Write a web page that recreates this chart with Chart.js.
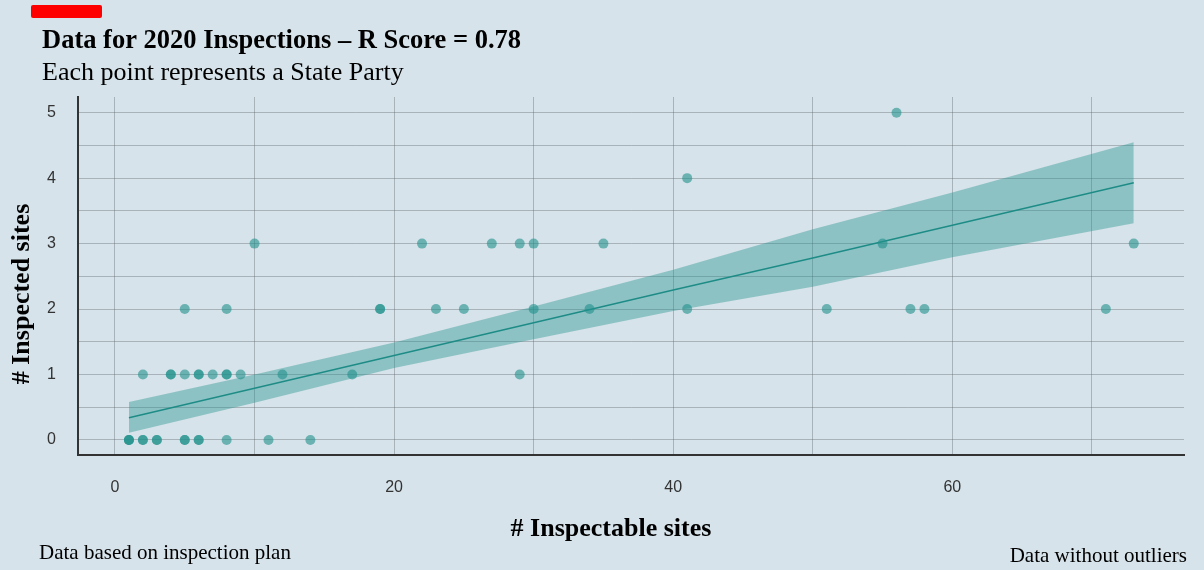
<!DOCTYPE html>
<html>
<head>
<meta charset="utf-8">
<script src="https://cdn.jsdelivr.net/npm/chart.js@4.4.0/dist/chart.umd.min.js"></script>
<style>
html, body { margin: 0; padding: 0; background: #d6e3ea; }
canvas { display: block; }
</style>
</head>
<body>
<canvas id="graficoInspecoes" width="1204" height="570"></canvas>
<script>
// one entry per State Party (duplicates show up darker in the plot)
const inspectable = [1, 1, 1, 2, 2, 3, 3, 5, 5, 6, 6, 8, 11, 14,
    2, 4, 4, 5, 6, 6, 7, 8, 8, 9, 12, 17, 29,
    5, 8, 19, 19, 23, 25, 30, 34, 41, 51, 57, 58, 71,
    10, 22, 27, 29, 30, 35, 55, 73,
    41, 56];
const inspected = [0, 0, 0, 0, 0, 0, 0, 0, 0, 0, 0, 0, 0, 0,
    1, 1, 1, 1, 1, 1, 1, 1, 1, 1, 1, 1, 1,
    2, 2, 2, 2, 2, 2, 2, 2, 2, 2, 2, 2, 2,
    3, 3, 3, 3, 3, 3, 3, 3,
    4, 5];

// fitted line and its confidence band
const fitX = [1, 10, 20, 30, 40, 50, 60, 73];
const fitY = [0.34, 0.79, 1.29, 1.79, 2.29, 2.78, 3.28, 3.93];
const fitUpper = [0.58, 1.00, 1.49, 2.04, 2.60, 3.22, 3.78, 4.55];
const fitLower = [0.11, 0.57, 1.10, 1.54, 1.97, 2.34, 2.79, 3.31];

const xGrid = [0, 10, 20, 30, 40, 50, 60, 70];
const xLabels = [0, 20, 40, 60];
const yGrid = [0, 0.5, 1, 1.5, 2, 2.5, 3, 3.5, 4, 4.5, 5];
const yLabels = [0, 1, 2, 3, 4, 5];

const teal = 'rgba(33, 145, 140, 0.6)';
const bandColor = 'rgba(33, 145, 140, 0.4)';
const gridColor = 'rgba(80, 90, 95, 0.35)';

const toXY = (xs, ys) => xs.map((x, i) => ({ x: x, y: ys[i] }));

// titles, axis titles, red tag and footnotes
const decoracao = {
    id: 'decoracao',
    afterDraw(chart) {
        const c = chart.ctx;
        c.save();
        c.fillStyle = '#ff0000';
        c.beginPath();
        c.roundRect(31, 5, 71, 13, 2);
        c.fill();
        c.fillStyle = '#000000';
        c.textBaseline = 'alphabetic';
        c.textAlign = 'left';
        c.font = 'bold 26.5px "Liberation Serif"';
        c.fillText('Data for 2020 Inspections \u2013 R Score = 0.78', 42, 48);
        c.font = '26px "Liberation Serif"';
        c.fillText('Each point represents a State Party', 42, 80);
        c.font = '21px "Liberation Serif"';
        c.fillText('Data based on inspection plan', 39, 559);
        c.textAlign = 'right';
        c.fillText('Data without outliers', 1187, 562);

        // axis titles
        c.textAlign = 'center';
        c.textBaseline = 'middle';
        c.font = 'bold 26px "Liberation Serif"';
        c.fillText('# Inspectable sites', 611, 529);
        c.translate(22, 294);
        c.rotate(-Math.PI / 2);
        c.fillText('# Inspected sites', 0, 0);
        c.restore();
    }
};

const ctx = document.getElementById('graficoInspecoes').getContext('2d');

const config = {
    type: 'scatter',
    data: {
        datasets: [
            {
                label: 'State Party',
                data: toXY(inspectable, inspected),
                backgroundColor: teal,
                borderWidth: 0,
                pointRadius: 5,
                pointHoverRadius: 5
            },
            {
                type: 'line',
                label: 'Fit',
                data: toXY(fitX, fitY),
                borderColor: 'rgba(30, 140, 134, 1)',
                borderWidth: 1.5,
                pointRadius: 0,
                fill: false
            },
            {
                type: 'line',
                label: 'Upper',
                data: toXY(fitX, fitUpper),
                borderWidth: 0,
                pointRadius: 0,
                backgroundColor: bandColor,
                fill: '+1'
            },
            {
                type: 'line',
                label: 'Lower',
                data: toXY(fitX, fitLower),
                borderWidth: 0,
                pointRadius: 0,
                fill: false
            }
        ]
    },
    options: {
        responsive: false,
        animation: false,
        layout: { padding: { top: 97, right: 20, bottom: 20, left: 2 } },
        plugins: {
            legend: { display: false },
            tooltip: { enabled: false }
        },
        scales: {
            x: {
                type: 'linear',
                min: -2.65,
                max: 76.6,
                afterBuildTicks: (scale) => { scale.ticks = xGrid.map(v => ({ value: v })); },
                afterFit: (scale) => { scale.height = 95; },
                ticks: {
                    padding: 23,
                    color: '#333333',
                    font: { family: '"Liberation Sans"', size: 16 },
                    callback: (v) => xLabels.includes(v) ? String(v) : ''
                },
                grid: { color: gridColor, drawTicks: false },
                border: { color: '#333333', width: 2 }
            },
            y: {
                min: -0.23,
                max: 5.24,
                afterBuildTicks: (scale) => { scale.ticks = yGrid.map(v => ({ value: v })); },
                afterFit: (scale) => { scale.width = 76; },
                ticks: {
                    padding: 22,
                    color: '#333333',
                    font: { family: '"Liberation Sans"', size: 16 },
                    callback: (v) => yLabels.includes(v) ? String(v) : ''
                },
                grid: { color: gridColor, drawTicks: false },
                border: { color: '#333333', width: 2 }
            }
        }
    },
    plugins: [decoracao]
};

const graficoInspecoes = new Chart(ctx, config);
</script>
</body>
</html>
